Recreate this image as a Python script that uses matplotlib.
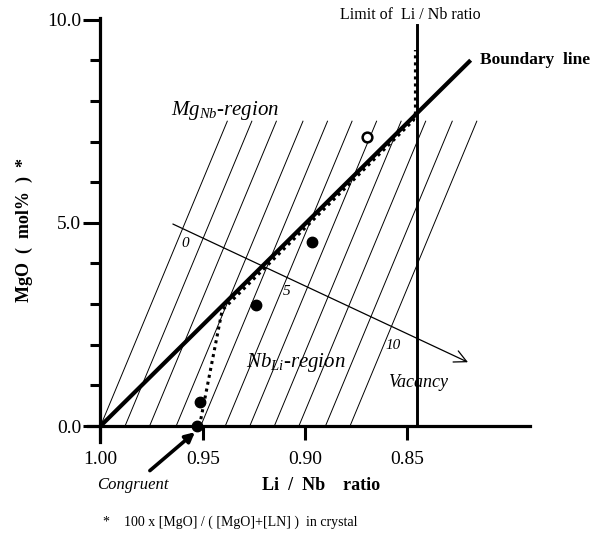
import matplotlib
matplotlib.use("Agg")
import matplotlib.pyplot as plt

plt.rcParams["font.family"] = ["Liberation Serif", "DejaVu Serif"]
plt.rcParams["mathtext.fontset"] = "custom"
plt.rcParams["mathtext.it"] = "Liberation Serif:italic"
plt.rcParams["mathtext.rm"] = "Liberation Serif"

# --- data ---
# hatch lines of constant vacancy: start on MgO = 0, end at MgO = 7.5
hatch_vacancy = [0, 1, 2, 3, 4, 5, 6, 7, 8, 9, 10]
hatch_x0 = [1.000, 0.988, 0.976, 0.963, 0.951, 0.939, 0.927, 0.915, 0.903, 0.890, 0.878]
hatch_x1 = [0.938, 0.926, 0.914, 0.901, 0.889, 0.877, 0.865, 0.853, 0.841, 0.828, 0.816]
hatch_y0 = 0.0
hatch_y1 = 7.5

# boundary line MgNb / NbLi
boundary_x = [1.000, 0.819]
boundary_y = [0.0, 9.0]

# limit of Li/Nb ratio
limit_x = [0.845, 0.845]
limit_y = [0.0, 9.86]

# dotted composition path
path_x = [0.9516, 0.9405, 0.847, 0.846, 0.846]
path_y = [0.0, 2.85, 7.52, 7.7, 9.25]

# measured crystals
filled_x = [0.9528, 0.9513, 0.9240, 0.8967]
filled_y = [0.0, 0.59, 2.99, 4.53]
open_x = [0.8695]
open_y = [7.10]

# vacancy axis
vac_start = (0.9646, 4.97)
vac_end = (0.8203, 1.57)
vac_labels = ["0", "5", "10"]
vac_label_x = [0.9587, 0.9088, 0.8570]
vac_label_y = [4.48, 3.30, 1.97]

x_ticks = [1.00, 0.95, 0.90, 0.85]
x_ticklabels = ["1.00", "0.95", "0.90", "0.85"]
y_ticks = [0, 5, 10]
y_ticklabels = ["0.0", "5.0", "10.0"]
y_minor = [1, 2, 3, 4, 6, 7, 8, 9]

# --- figure ---
fig = plt.figure(figsize=(6.03, 5.41), dpi=100)
ax = fig.add_axes([0.1463, 0.1824, 0.7326, 0.7852])
ax.set_xlim(1.006, 0.790)
ax.set_ylim(-0.4, 10.05)

for s in ["top", "right"]:
    ax.spines[s].set_visible(False)
ax.spines["left"].set_position(("data", 1.0))
ax.spines["bottom"].set_position(("data", 0.0))
for s in ["left", "bottom"]:
    ax.spines[s].set_linewidth(2.3)

ax.set_xticks(x_ticks)
ax.set_xticklabels(x_ticklabels)
ax.set_yticks(y_ticks)
ax.set_yticklabels(y_ticklabels)
ax.set_yticks(y_minor, minor=True)
ax.tick_params(axis="x", direction="out", length=10, width=2.2, pad=8, labelsize=14)
ax.tick_params(axis="y", which="major", direction="out", length=12, width=2.2, pad=2, labelsize=14)
ax.tick_params(axis="y", which="minor", direction="out", length=7, width=2.2)

# hatch lines
for x0, x1 in zip(hatch_x0, hatch_x1):
    ax.plot([x0, x1], [hatch_y0, hatch_y1], color="black", lw=0.7, zorder=1)

# boundary + limit
ax.plot(boundary_x, boundary_y, color="black", lw=3.0, solid_capstyle="butt", zorder=3)
ax.plot(limit_x, limit_y, color="black", lw=2.1, zorder=3)
ax.plot(path_x, path_y, color="black", lw=2.2, ls=(0, (1, 1.3)), zorder=4)

ax.plot(filled_x, filled_y, "o", color="black", ms=7.5, zorder=5, clip_on=False)
ax.plot(open_x, open_y, "o", mfc="white", mec="black", mew=1.8, ms=7, zorder=5)

# vacancy axis
ax.annotate("", xy=vac_end, xytext=vac_start,
            arrowprops=dict(arrowstyle="->", lw=0.9, color="black",
                            mutation_scale=22, shrinkA=0, shrinkB=0))
for lab, lx, ly in zip(vac_labels, vac_label_x, vac_label_y):
    ax.text(lx, ly, lab, style="italic", fontsize=11, ha="center", va="center")
ax.text(0.8445, 1.08, "Vacancy", style="italic", fontsize=13, ha="center", va="center")

# region labels
ax.text(0.9653, 7.65, r"$\mathit{Mg}_{\mathit{Nb}}$-region", style="italic",
        fontsize=15, ha="left", va="baseline")
ax.text(0.9287, 1.45, r"$\mathit{Nb}_{\mathit{Li}}$-region", style="italic",
        fontsize=15, ha="left", va="baseline")

ax.text(0.8485, 10.11, "Limit of  Li / Nb ratio", fontsize=11.5,
        ha="center", va="center")
ax.text(0.8144, 9.0, "Boundary  line", fontsize=12.5, fontweight="bold",
        ha="left", va="center")

# congruent arrow
ax.annotate("Congruent", xy=(0.9538, -0.15), xytext=(0.9841, -1.45),
            style="italic", fontsize=12, ha="center", va="center",
            arrowprops=dict(arrowstyle="-|>", lw=2.6, color="black",
                            mutation_scale=14, shrinkA=4, shrinkB=0),
            annotation_clip=False)

ax.set_xlabel("Li  /  Nb    ratio", fontsize=13, fontweight="bold")
ax.xaxis.set_label_coords(0.527, -0.101)
ax.xaxis.label.set_va("center")
ax.set_ylabel("MgO  (  mol%  )  *", fontsize=13, fontweight="bold")
ax.yaxis.set_label_coords(-0.145, 0.50)
ax.yaxis.label.set_va("center")

fig.text(0.1708, 0.0351, "*    100 x [MgO] / ( [MgO]+[LN] )  in crystal",
         fontsize=10, ha="left", va="center")

fig.savefig("out.png", dpi=100)
